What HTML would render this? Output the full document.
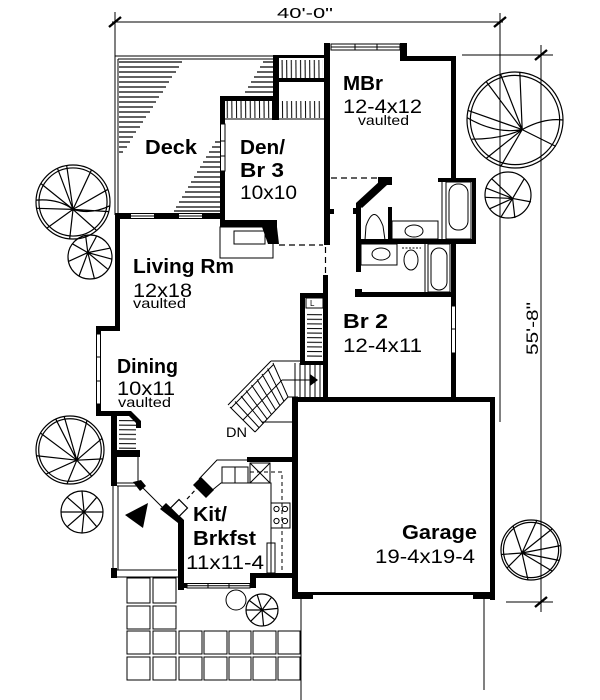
<!DOCTYPE html>
<html><head><meta charset="utf-8"><style>
html,body{margin:0;padding:0;background:#fff;}
svg{display:block;}
text{font-family:"Liberation Sans",Arial,sans-serif;fill:#000;}
.b{font-weight:bold;}
.t{fill:none;stroke:#000;stroke-width:1;}
.tr *{fill:none;stroke:#000;stroke-width:1.2;vector-effect:non-scaling-stroke;}
</style></head><body>
<svg width="600" height="700" viewBox="0 0 600 700" xmlns="http://www.w3.org/2000/svg">
<defs>
<pattern id="hv" width="4.6" height="200" patternUnits="userSpaceOnUse"><path d="M1,0 L2.6,200" stroke="#000" stroke-width="1"/></pattern>
<pattern id="hh" width="200" height="4.6" patternUnits="userSpaceOnUse"><path d="M0,1 L200,2.6" stroke="#000" stroke-width="1"/></pattern>
</defs>
<rect width="600" height="700" fill="#fff"/>

<path class="t" d="M112,22H503M115,12V56M500,13V422M462,55H553M541,45V612M506,602H553"/>
<path stroke="#000" stroke-width="2.4" d="M109,27L121,17M494,27L506,17M535,60L547,50M535,607L547,597"/>
<text x="277" y="18" font-size="15" textLength="56" lengthAdjust="spacingAndGlyphs">40'-0"</text>
<text transform="translate(538,355) rotate(-90)" font-size="17" textLength="53" lengthAdjust="spacingAndGlyphs">55'-8"</text>

<path class="t" d="M115,56H275M118,59H275M115,56V215M118,59V213"/>
<path stroke="#000" stroke-width="1.3" d="M119,62H182M119,67H179M119,72H176M119,77H172M119,82H169M119,87H166M119,92H163M119,97H159M119,102H156M119,107H153M119,112H150M119,117H146M119,122H143M119,127H140M119,132H136M119,137H133M119,142H130M119,147H127M119,152H123M263,62H274M260,67H274M257,72H274M254,77H274M251,82H274M248,87H274M245,92H274M215,142H220M212,147H220M209,152H220M206,157H220M203,162H220M200,167H220M197,172H220M194,177H220M191,182H220M188,187H220M185,192H220M182,197H220M179,202H220M176,207H220M174,211H220"/>

<rect x="226" y="101" width="46" height="17" fill="url(#hv)"/>
<rect x="281" y="60" width="42" height="18" fill="url(#hv)"/>
<rect x="281" y="101" width="42" height="17" fill="url(#hv)"/>
<path class="t" d="M225,119H324"/>

<g fill="#000">
<rect x="273" y="55" width="57" height="3"/>
<rect x="273" y="55" width="6" height="45"/>
<rect x="273" y="78" width="57" height="4"/>
<rect x="220" y="96" width="59" height="5"/>
<rect x="272" y="96" width="7" height="24"/>
<rect x="220" y="96" width="5" height="131"/>
<rect x="115" y="213" width="110" height="6"/>
<rect x="220" y="220" width="57" height="7"/>
<polygon points="262,227 277,227 279,244 268,244"/>
<rect x="324" y="43" width="6" height="202"/>
<rect x="330" y="209" width="4" height="5"/>
<rect x="400" y="43" width="7" height="17"/>
<rect x="400" y="56" width="56" height="5"/>
<rect x="451" y="56" width="5" height="126"/>
<rect x="438" y="178" width="38" height="4"/>
<rect x="472" y="178" width="4" height="66"/>
<rect x="356" y="239" width="120" height="5"/>
<rect x="451" y="239" width="5" height="163"/>
<rect x="378" y="177" width="14" height="8"/>
<polygon points="381,180 387,185 362,208 356,203"/>
<rect x="356" y="203" width="5" height="69"/>
<rect x="353" y="208" width="4" height="6"/>
<rect x="388" y="207" width="4" height="34"/>
<rect x="356" y="292" width="100" height="5"/>
<rect x="355" y="289" width="7" height="8"/>
<rect x="323" y="275" width="5" height="125"/>
<rect x="300" y="293" width="28" height="5"/>
<rect x="300" y="293" width="5" height="72"/>
<rect x="300" y="361" width="28" height="4"/>
<rect x="292" y="397" width="203" height="5"/>
<rect x="490" y="397" width="5" height="203"/>
<rect x="292" y="397" width="6" height="202"/>
<rect x="292" y="592" width="203" height="3"/>
<rect x="292" y="592" width="21" height="7"/>
<rect x="473" y="592" width="22" height="7"/>
<rect x="115" y="213" width="5" height="118"/>
<rect x="96" y="326" width="24" height="5"/>
<rect x="96" y="326" width="5" height="90"/>
<rect x="96" y="411" width="22" height="5"/>
<rect x="111" y="411" width="6" height="75"/>
<polygon points="111,411 131,411 141,421 141,428 136,428 136,423 129,416 111,416"/>
<rect x="115" y="450" width="25" height="7"/>
<polygon points="133,482 141,480 146,486 140,491"/>
<rect x="111" y="568" width="6" height="10"/>
<polygon points="160,509 166,503 184,520 184,590 178,590 178,523"/>
<rect x="178" y="583" width="78" height="5"/>
<rect x="250" y="573" width="6" height="15"/>
<rect x="250" y="573" width="47" height="5"/>
<rect x="247" y="457" width="50" height="5"/>
<polygon points="193,485 201,477 214,490 206,498"/>
<rect x="323" y="361" width="5" height="39"/>
</g>

<path fill="#fff" stroke="#000" stroke-width="1" d="M130,213.5h25v5h-25zM178,213.5h25v5h-25zM220.5,124h4.5v47h-4.5zM331,44h69v6h-69zM96.5,334h4v70h-4zM451.5,306h4v47h-4zM187,583.5h63v4.5h-63z"/>
<path class="t" d="M130,216H155M178,216H203M331,47H400M355,44V50M377,44V50M220,141H225M220,156H225M96,357H101M96,381H101M451,329H456M208,583V588M229,583V588M187,585.7H250"/>
<path fill="#000" d="M128,213h3v6h-3zM154,213h3v6h-3zM176,213h3v6h-3zM202,213h3v6h-3z"/>

<path class="t" d="M220,227h53v31h-53zM234,231h31v13h-31z"/>
<path fill="none" stroke="#000" stroke-width="1.2" stroke-dasharray="6,4" d="M279,245H323M325.5,247V275M331,178H377"/>

<g class="t">
<rect x="446" y="182" width="25" height="57"/>
<rect x="449" y="184" width="19" height="46" rx="9"/>
<path d="M442,182V239M365,240L366,226Q374,203 383,226L385,240Z"/>
<rect x="392" y="221" width="46" height="18"/>
<ellipse cx="414" cy="231" rx="9" ry="6"/>
<rect x="361" y="244" width="36" height="21"/>
<ellipse cx="381" cy="254" rx="9" ry="6"/>
<path d="M402,248H421" stroke-dasharray="2,1.5"/>
<ellipse cx="411" cy="260" rx="7" ry="10"/>
<path d="M425,244V292"/>
<rect x="428" y="244" width="22" height="48"/>
<rect x="431" y="248" width="16" height="42" rx="8"/>
</g>

<rect x="306" y="298" width="17" height="10" class="t"/>
<text x="310" y="306" font-size="8">L</text>
<rect x="307" y="311" width="15" height="48" fill="url(#hh)"/>

<path class="t" d="M271,361H300M228,405L271,361M231,408L274,364M255,432L288,397M230,407L255,432M235,401.5L259,427.6M241,396L263,423.3M246,390.5L267,418.9M251.5,385L271.5,414.5M257,379.5L275.6,410M262,374L280,405.8M267.6,368.5L284,401.4M273,363L288,397M243,420L282,380M288,397H298M262,422H293M295,363V397M300,363V397M305,363V397M310,363V397M315,363V397M320,363V397M282,380H311"/>
<polygon points="310,374 318,380 310,386" fill="#000"/>

<rect x="119" y="418" width="17" height="32" fill="url(#hh)"/>
<path class="t" d="M138,457V483M117,483H138M117,486H138M113,486V577M118,486V570M117,570H177M111,577H178M142,487L164,509"/>
<polygon points="125,515 148,503 143,528" fill="#000"/>
<rect x="173" y="502" width="12" height="12" fill="#fff" stroke="#000" stroke-width="1.2" transform="rotate(45 179 508)"/>
<path stroke="#000" stroke-width="1.2" stroke-dasharray="4,3" d="M187,499L198,487"/>

<g class="t">
<path d="M199,479L217,460H248M210,492L221,483H250M222,467h13v16h-13zM235,467h13v16h-13zM250,463h20v20h-20zM250,463L270,483M270,463L250,483M250,483H271V573M271,503h19v25h-19zM267,543h8v30h-8z"/>
<circle cx="276.5" cy="509" r="2.6"/>
<circle cx="285" cy="509" r="2.6"/>
<circle cx="276.5" cy="521" r="2.6"/>
<circle cx="285" cy="521" r="2.6"/>
<path d="M250,472H282V573" stroke-dasharray="4,3"/>
</g>

<path class="t" d="M301,599V700M484,599V690M127,578h23v25h-23zM153,578h23v25h-23zM127,606h23v23h-23zM153,606h23v23h-23z"/>
<path class="t" d="M127,631h23v23h-23zm26,0h23v23h-23zm26,0h23v23h-23zm25,0h23v23h-23zm25,0h22v23h-22zm24,0h23v23h-23zm25,0h22v23h-22zM127,657h23v23h-23zm26,0h23v23h-23zm26,0h23v23h-23zm25,0h23v23h-23zm25,0h22v23h-22zm24,0h23v23h-23zm25,0h22v23h-22z"/>

<g class="tr" transform="translate(73,202) scale(37)">
<circle r="1"/><circle r="0.92"/>
<path d="M0,0.2L-0.17,-0.98M0,0.2L0.5,-0.87M0,0.2L0.94,-0.34M0,0.2L0.97,0.26M0,0.2L0.64,0.77M0,0.2L-0.09,1M0,0.2L-0.71,0.71M0,0.2L-0.98,0.17M0,0.2L-0.87,-0.5M0,0.2L-0.42,-0.91M-1,-0.05Q-0.4,-0.1 0,0.2Q0.5,0.35 1,0.1"/>
</g>
<g class="tr" transform="translate(90,257) scale(22)">
<circle r="1"/>
<path d="M-0.1,-0.2L0.3,-0.95M-0.1,-0.2L0.9,-0.4M-0.1,-0.2L1,0.1M-0.1,-0.2L0.8,0.55M-0.1,-0.2L0.2,0.98M-0.1,-0.2L-0.5,0.87M-0.1,-0.2L-0.98,0.2M-0.1,-0.2L-0.8,-0.6M-0.1,-0.2L-0.2,-0.98"/>
</g>
<g class="tr" transform="translate(515,120) scale(48)">
<circle r="1"/><circle r="0.93"/>
<path d="M0.15,0.2L-0.3,-0.95M0.15,0.2L0.1,-1M0.15,0.2L-0.6,-0.8M0.15,0.2L0.85,0.55M0.15,0.2L-0.3,0.97M0.15,0.2L-0.6,0.8M0.15,0.2L-0.98,-0.2M-1,-0.05Q-0.4,0.3 0.15,0.2Q0.6,-0.05 1,0M-0.9,0.4Q-0.3,0.4 0.15,0.2"/>
</g>
<g class="tr" transform="translate(508,195) scale(23)">
<circle r="1"/>
<path d="M0.2,0.15L-0.7,-0.7M0.2,0.15L-0.95,-0.3M0.2,0.15L-1,0.1M0.2,0.15L0.7,-0.7M0.2,0.15L1,0.3M0.2,0.15L0.3,1M0.2,0.15L-0.3,0.95M0.2,0.15L-0.8,0.6"/>
</g>
<g class="tr" transform="translate(70,450) scale(34)">
<circle r="1"/><circle r="0.92"/>
<path d="M0.2,0.3L-0.17,-0.98M0.2,0.3L0.5,-0.87M0.2,0.3L0.94,-0.34M0.2,0.3L0.97,0.26M0.2,0.3L0.64,0.77M0.2,0.3L-0.09,1M0.2,0.3L-0.71,0.71M0.2,0.3L-0.98,0.17M0.2,0.3L-0.87,-0.5M0.2,0.3L-0.42,-0.91"/>
</g>
<g class="tr" transform="translate(82,512) scale(21)">
<circle r="1"/>
<path d="M0.1,0L0,-1M0.1,0L0.7,-0.7M0.1,0L1,0M0.1,0L0.7,0.7M0.1,0L0,1M0.1,0L-0.7,0.7M0.1,0L-1,0M0.1,0L-0.7,-0.7"/>
</g>
<circle cx="236" cy="600" r="10" fill="none" stroke="#000" stroke-width="1"/>
<g class="tr" transform="translate(262,610) scale(16)">
<circle r="1"/>
<path d="M0,0L-0.3,-0.95M0,0L0.6,-0.8M0,0L1,-0.1M0,0L0.8,0.6M0,0L0.1,1M0,0L-0.7,0.7M0,0L-1,0M0,0L-0.8,-0.6"/>
</g>
<g class="tr" transform="translate(531,550) scale(30)">
<circle r="1"/><circle r="0.92"/>
<path d="M-0.3,0.1L-0.6,-0.8M-0.3,0.1L0.2,-1M-0.3,0.1L0.7,-0.7M-0.3,0.1L1,-0.15M-0.3,0.1L0.95,0.35M-0.3,0.1L0.7,0.7M-0.3,0.1L-0.1,1M-0.3,0.1L-0.8,0.6M-0.3,0.1L-1,0.15"/>
</g>

<text class="b" x="145" y="154" font-size="20" textLength="52" lengthAdjust="spacingAndGlyphs">Deck</text>
<text class="b" x="240" y="154" font-size="20" textLength="45" lengthAdjust="spacingAndGlyphs">Den/</text>
<text class="b" x="240" y="177" font-size="20" textLength="44" lengthAdjust="spacingAndGlyphs">Br 3</text>
<text x="240" y="199" font-size="19" textLength="57" lengthAdjust="spacingAndGlyphs">10x10</text>
<text class="b" x="343" y="90" font-size="20" textLength="40" lengthAdjust="spacingAndGlyphs">MBr</text>
<text x="343" y="113" font-size="19" textLength="79" lengthAdjust="spacingAndGlyphs">12-4x12</text>
<text x="358" y="125" font-size="14" textLength="51" lengthAdjust="spacingAndGlyphs">vaulted</text>
<text class="b" x="133" y="273" font-size="20" textLength="101" lengthAdjust="spacingAndGlyphs">Living Rm</text>
<text x="133" y="297" font-size="19" textLength="59" lengthAdjust="spacingAndGlyphs">12x18</text>
<text x="133" y="308" font-size="14" textLength="53" lengthAdjust="spacingAndGlyphs">vaulted</text>
<text class="b" x="117" y="373" font-size="20" textLength="61" lengthAdjust="spacingAndGlyphs">Dining</text>
<text x="117" y="395" font-size="19" textLength="58" lengthAdjust="spacingAndGlyphs">10x11</text>
<text x="118" y="407" font-size="14" textLength="53" lengthAdjust="spacingAndGlyphs">vaulted</text>
<text x="226" y="437" font-size="14" textLength="21" lengthAdjust="spacingAndGlyphs">DN</text>
<text class="b" x="343" y="328" font-size="20" textLength="45" lengthAdjust="spacingAndGlyphs">Br 2</text>
<text x="343" y="352" font-size="19" textLength="79" lengthAdjust="spacingAndGlyphs">12-4x11</text>
<text class="b" x="402" y="539" font-size="20" textLength="75" lengthAdjust="spacingAndGlyphs">Garage</text>
<text x="375" y="563" font-size="19" textLength="100" lengthAdjust="spacingAndGlyphs">19-4x19-4</text>
<text class="b" x="193" y="521" font-size="20" textLength="34" lengthAdjust="spacingAndGlyphs">Kit/</text>
<text class="b" x="193" y="545" font-size="20" textLength="63" lengthAdjust="spacingAndGlyphs">Brkfst</text>
<text x="186" y="569" font-size="19" textLength="78" lengthAdjust="spacingAndGlyphs">11x11-4</text>
</svg>
</body></html>
